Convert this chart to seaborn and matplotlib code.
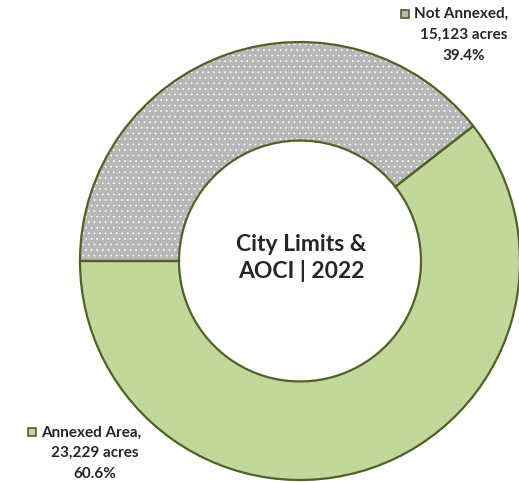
import matplotlib
matplotlib.use('Agg')
import matplotlib.pyplot as plt
from matplotlib.patches import Rectangle
import seaborn as sns

# chart data
labels = ['Not Annexed', 'Annexed Area']
acres = [15123, 23229]
pcts = ['39.4%', '60.6%']

sns.set_style('white')
plt.rcParams['font.family'] = ['Lato', 'DejaVu Sans']
plt.rcParams['hatch.color'] = 'white'
plt.rcParams['hatch.linewidth'] = 0.5

grey = '#B7B7B7'
green = '#C4D79B'
edge = '#4F6228'
pal = sns.color_palette([grey, green])

fig = plt.figure(figsize=(5.19, 4.83), dpi=100)
ax = fig.add_axes([80 / 519, 3 / 483, 440 / 519, 438 / 483])

ring = 0.45
ax.pie(acres, colors=pal, startangle=180, counterclock=False,
       wedgeprops=dict(width=ring, linewidth=0))
ax.pie(acres, colors=['none', 'none'], hatch=['...', ''], startangle=180,
       counterclock=False, wedgeprops=dict(width=ring, linewidth=0, edgecolor='white'))
ax.pie(acres, colors=['none', 'none'], startangle=180, counterclock=False,
       wedgeprops=dict(width=ring, linewidth=1.6, edgecolor=edge))
ax.set_aspect('auto')
ax.set_xlim(-1, 1)
ax.set_ylim(-1, 1)
ax.axis('off')

fig.text(301 / 519, 1 - 258 / 483, 'City Limits &\nAOCI | 2022', ha='center', va='center',
         fontsize=16.5, fontweight='bold', linespacing=1.3)


def px(x, y):
    return x / 519, 1 - y / 483


def label_block(cx, ys, name, val, pct, sq):
    # first line starts right of the square, the other two are centred
    fig.text(*px(sq[0] + 13, ys[0]), name + ',', ha='left', va='center',
             fontsize=11, fontweight='bold')
    fig.text(*px(cx, ys[1]), f'{val:,} acres', ha='center', va='center',
             fontsize=11, fontweight='bold')
    fig.text(*px(cx, ys[2]), pct, ha='center', va='center',
             fontsize=11, fontweight='bold')


squares = [(401, 10), (28, 428)]
for (sx, sy), col in zip(squares, pal):
    fig.add_artist(Rectangle(px(sx, sy + 8), 8 / 519, 8 / 483,
                             transform=fig.transFigure, facecolor=col,
                             edgecolor=edge, linewidth=1.2))

label_block(464, [14, 35, 56], labels[0], acres[0], pcts[0], squares[0])
label_block(95, [433, 453, 474], labels[1], acres[1], pcts[1], squares[1])

fig.savefig('out.png', dpi=100)
